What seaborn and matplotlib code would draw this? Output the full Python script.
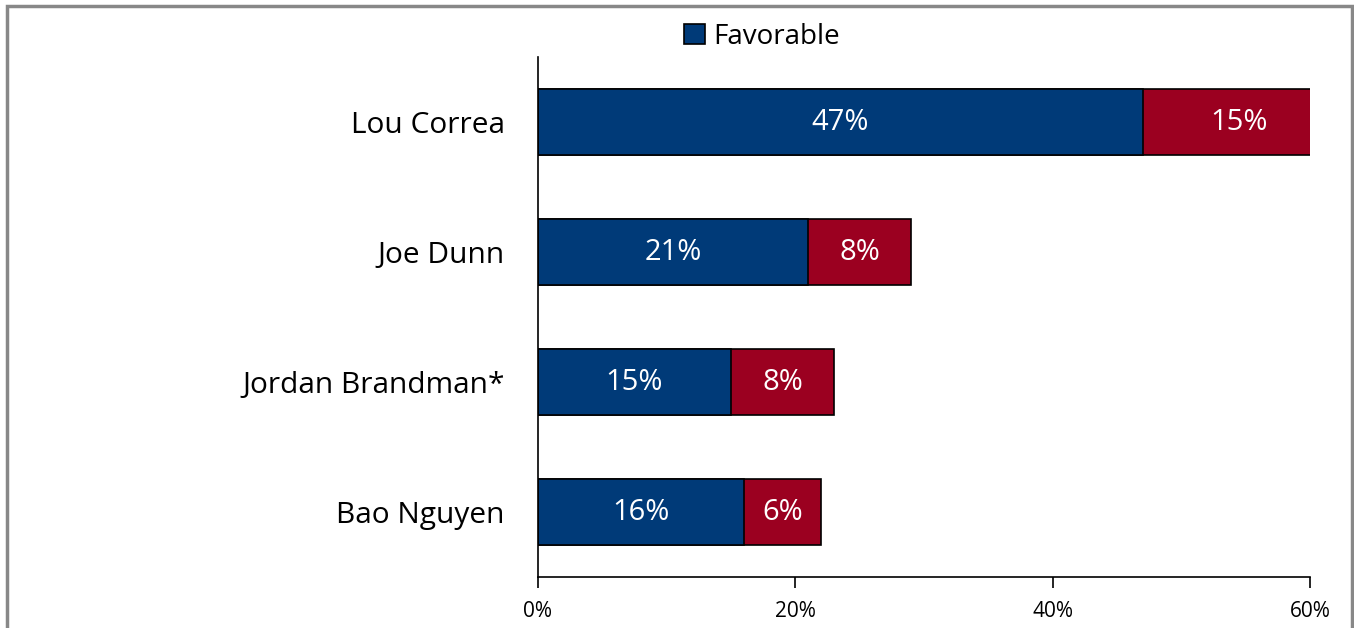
import matplotlib
matplotlib.use("Agg")
import matplotlib.pyplot as plt
import seaborn as sns
import pandas as pd
from matplotlib.patches import Rectangle, Patch

# ==================================================
# DATA
# ==================================================

candidates = ["Lou Correa", "Joe Dunn", "Jordan Brandman*", "Bao Nguyen"]
favorable = [47, 21, 15, 16]
unfavorable = [15, 8, 8, 6]
x_ticks = [0, 20, 40, 60]

BLUE = "#003A78"
RED = "#9B0020"

df = pd.DataFrame({
    "name": candidates,
    "fav": favorable,
    "unfav": unfavorable,
})
df["total"] = df["fav"] + df["unfav"]

# ==================================================
# PLOT
# ==================================================

sns.set_style("white")
plt.rcParams["font.family"] = ["Open Sans", "DejaVu Sans"]
plt.rcParams["text.color"] = "black"
plt.rcParams["xtick.color"] = "black"
plt.rcParams["ytick.color"] = "black"

fig = plt.figure(figsize=(13.54, 6.28), dpi=100)
ax = fig.add_axes([538 / 1354, 51 / 628, 772 / 1354, 520 / 628])

sns.barplot(data=df, x="total", y="name", color=RED, width=0.51,
            edgecolor="black", linewidth=1.2, saturation=1, ax=ax)
sns.barplot(data=df, x="fav", y="name", color=BLUE, width=0.51,
            edgecolor="black", linewidth=1.2, saturation=1, ax=ax)

for i, row in df.iterrows():
    ax.text(row["fav"] / 2, i, f"{row['fav']}%", color="white",
            ha="center", va="center", fontsize=21)
    ax.text(row["fav"] + row["unfav"] / 2, i, f"{row['unfav']}%",
            color="white", ha="center", va="center", fontsize=21)

ax.set_xlim(0, 60)
ax.set_ylim(3.5, -0.5)
ax.set_xticks(x_ticks)
ax.set_xticklabels([f"{t}%" for t in x_ticks], fontsize=15)
ax.tick_params(axis="x", direction="out", length=8, width=1.2,
               color="black", labelcolor="black", pad=9, bottom=True)
ax.tick_params(axis="y", length=0, labelsize=21.5, labelcolor="black", pad=24)
ax.set_xlabel("")
ax.set_ylabel("")

for side in ["top", "right"]:
    ax.spines[side].set_visible(False)
for side in ["left", "bottom"]:
    ax.spines[side].set_color("black")
    ax.spines[side].set_linewidth(1.2)

fig.legend(handles=[Patch(facecolor=BLUE, edgecolor="black", linewidth=1.2,
                          label="Favorable")],
           loc="center", bbox_to_anchor=(762 / 1354, 1 - 37 / 628),
           frameon=False, fontsize=20, handlelength=0.75, handleheight=0.75,
           handletextpad=0.3, labelcolor="black")

fig.patches.append(Rectangle((7 / 1354, -0.1), 1345 / 1354, 1.1 - 6 / 628,
                             transform=fig.transFigure, fill=False,
                             edgecolor="#888888", linewidth=2.5))

plt.savefig("out.png", dpi=100)
plt.close()
